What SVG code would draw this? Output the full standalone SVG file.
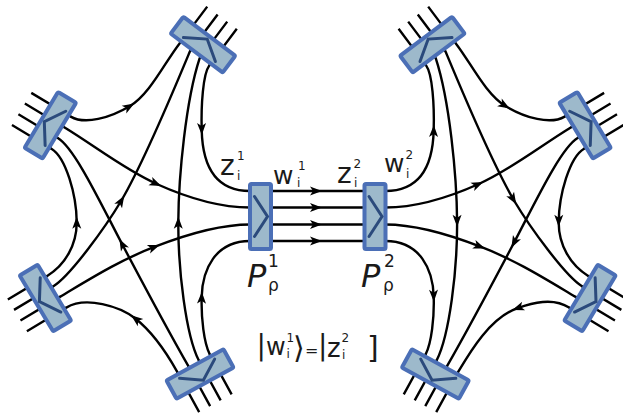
<svg xmlns="http://www.w3.org/2000/svg" xmlns:xlink="http://www.w3.org/1999/xlink" width="623" height="414" viewBox="0 0 623 414">
<style>
.ln{fill:none;stroke:#000;stroke-width:2.4;stroke-linecap:round;marker-mid:url(#arr)}
.bx{fill:#9db9cb;stroke:#4b6fb6;stroke-width:4;stroke-linejoin:round}
.ch{fill:none;stroke:#2b4a7c;stroke-width:3;stroke-linecap:round;stroke-linejoin:miter}
.stub{fill:none;stroke:#000;stroke-width:2.4}
text{font-family:"DejaVu Sans","Noto Sans",sans-serif;fill:#1a1a1a}
.it{font-style:italic}
</style>
<defs>
<marker id="arr" markerUnits="userSpaceOnUse" markerWidth="14" markerHeight="12" viewBox="-8 -6 14 12" refX="0" refY="0" orient="auto" overflow="visible"><path d="M5,0 L-7,-4.5 L-4,0 L-7,4.5 Z" fill="#000"/></marker>
<g id="boxShape"><rect class="bx" x="-10.5" y="-32.5" width="21" height="65" rx="1.5"/><path class="ch" d="M-6,-20 L7,0 L-6,20"/></g>
</defs>

<g id="connectors">
<g id="left-connectors">
<path class="ln" d="M70.7,116.6 C85,125 110,118 130,106 C150,94 165,62 179.6,43.4"/>
<path class="ln" d="M209.2,65.6 C203,74 201,105 201.7,130 C202.4,160 212,191 250,191"/>
<path class="ln" d="M64.2,127.3 C95,146 125,170 156.7,184 C190,199 220,207.5 250,207.5"/>
<path class="ln" d="M47.2,275.9 C65,265 77,245 76.7,221.7 C76.4,195 66,157.5 51.4,148.7"/>
<path class="ln" d="M53.4,286.2 C70,276 105,228 121.7,200 C145,160 178,80 190,51.2"/>
<path class="ln" d="M59.8,296.9 C90,279 120,260 155,246.7 C190,233 220,224.5 250,224.5"/>
<path class="ln" d="M177.1,371.7 C165,350 150,330 135,318.3 C120,306.6 86,295.8 66.3,307.6"/>
<path class="ln" d="M188.1,365.7 C170,334 140,278 121.7,243.3 C100.7,203.5 74.9,148.3 57.8,138"/>
<path class="ln" d="M198.6,360 C186,335 178,270 178.3,221.7 C178.6,175 186,100 199.6,58.4"/>
<path class="ln" d="M209.6,354 C204,343 201,318 201.7,296.7 C202.3,270 215,241 250,241"/>
</g>
<g id="middle-connectors">
<path class="ln" d="M250,191 L317,191 L385.4,191"/>
<path class="ln" d="M250,207.5 L317,207.5 L385.4,207.5"/>
<path class="ln" d="M250,224.5 L317,224.5 L385.4,224.5"/>
<path class="ln" d="M250,241 L317,241 L385.4,241"/>
</g>
<g id="right-connectors">
<path class="ln" d="M455.8,43.4 C470.4,62 485.4,94 505.4,106 C525.4,118 550.4,125 564.7,116.6"/>
<path class="ln" d="M385.4,191 C423.4,191 433,160 433.7,130 C434.4,105 432.4,74 426.2,65.6"/>
<path class="ln" d="M385.4,207.5 C415.4,207.5 445.4,199 478.7,184 C510.4,170 540.4,146 571.2,127.3"/>
<path class="ln" d="M584,148.7 C569.4,157.5 559,195 558.7,221.7 C558.4,245 570.4,265 588.2,275.9"/>
<path class="ln" d="M445.4,51.2 C457.4,80 490.4,160 513.7,200 C530.4,228 565.4,276 582,286.2"/>
<path class="ln" d="M385.4,224.5 C415.4,224.5 445.4,233 480.4,246.7 C515.4,260 545.4,279 575.6,296.9"/>
<path class="ln" d="M569.1,307.6 C553,297 532,303 517,308.3 C490,318 470,352 458.3,371.7"/>
<path class="ln" d="M577.6,138 C560.5,148.3 534.7,203.5 513.7,243.3 C495.4,278 465.4,334 447.3,365.7"/>
<path class="ln" d="M435.8,58.4 C449.4,100 456.8,175 457.1,221.7 C457.4,270 449.4,335 436.8,360"/>
<path class="ln" d="M385.4,241 C420.4,241 433.1,270 433.7,296.7 C434.4,318 431.4,343 425.8,354"/>
</g>
</g>

<g id="node-TL" transform="translate(203,44.7) rotate(-53.1)"><path class="stub" d="M33,-19.5H-13M33,-6.5H-13M33,5.5H-13M33,17.5H-13"/><use xlink:href="#boxShape" href="#boxShape"/></g>
<g id="node-L" transform="translate(50.3,125.3) rotate(211)"><path class="stub" d="M33,18H-13M33,5.5H-13M33,-7H-13M33,-19.5H-13"/><use xlink:href="#boxShape" href="#boxShape"/></g>
<g id="node-LL" transform="translate(45.4,298) rotate(149)"><path class="stub" d="M33,18H-13M33,6H-13M33,-6.5H-13M33,-19H-13"/><use xlink:href="#boxShape" href="#boxShape"/></g>
<g id="node-BL" transform="translate(200,374) rotate(61.3)"><path class="stub" d="M33,19H-13M33,6.5H-13M33,-5.5H-13M33,-18H-13"/><use xlink:href="#boxShape" href="#boxShape"/></g>

<g id="node-TR" transform="matrix(-1 0 0 1 635.4 0) translate(203,44.7) rotate(-53.1)"><path class="stub" d="M33,-19.5H-13M33,-6.5H-13M33,5.5H-13M33,17.5H-13"/><use xlink:href="#boxShape" href="#boxShape"/></g>
<g id="node-R" transform="matrix(-1 0 0 1 635.4 0) translate(50.3,125.3) rotate(211)"><path class="stub" d="M33,18H-13M33,5.5H-13M33,-7H-13M33,-19.5H-13"/><use xlink:href="#boxShape" href="#boxShape"/></g>
<g id="node-RL" transform="matrix(-1 0 0 1 635.4 0) translate(45.4,298) rotate(149)"><path class="stub" d="M33,18H-13M33,6H-13M33,-6.5H-13M33,-19H-13"/><use xlink:href="#boxShape" href="#boxShape"/></g>
<g id="node-BR" transform="matrix(-1 0 0 1 635.4 0) translate(200,374) rotate(61.3)"><path class="stub" d="M33,19H-13M33,6.5H-13M33,-5.5H-13M33,-18H-13"/><use xlink:href="#boxShape" href="#boxShape"/></g>

<g id="node-P1" transform="translate(260.5,216.5)"><use xlink:href="#boxShape" href="#boxShape"/></g>
<g id="node-P2" transform="translate(375,216.5)"><use xlink:href="#boxShape" href="#boxShape"/></g>

<g id="labels">
<text font-size="28"><tspan x="220" y="175">z</tspan><tspan x="237" y="160" font-size="12">1</tspan><tspan x="237" y="180" font-size="12">i</tspan></text>
<text font-size="25"><tspan x="273" y="184">w</tspan><tspan x="298" y="170" font-size="12">1</tspan><tspan x="297" y="187" font-size="12">i</tspan></text>
<text font-size="28"><tspan x="337" y="183">z</tspan><tspan x="353.5" y="168" font-size="12">2</tspan><tspan x="354" y="187" font-size="12">i</tspan></text>
<text font-size="25"><tspan x="384" y="172">w</tspan><tspan x="405.5" y="159" font-size="12">2</tspan><tspan x="406" y="178" font-size="12">i</tspan></text>
<text font-size="32"><tspan class="it" x="247" y="287">P</tspan><tspan x="268" y="267" font-size="17">1</tspan><tspan x="268" y="291" font-size="17">ρ</tspan></text>
<text font-size="32"><tspan class="it" x="361" y="287">P</tspan><tspan x="384" y="267" font-size="17">2</tspan><tspan x="383" y="291" font-size="17">ρ</tspan></text>
<text font-size="24"><tspan x="256.5" y="355" font-size="28">|</tspan><tspan x="266" y="355">w</tspan><tspan x="286.5" y="342" font-size="12">1</tspan><tspan x="286.5" y="358" font-size="12">i</tspan><tspan x="293" y="358" font-size="30">⟩</tspan><tspan x="305" y="356" font-size="16">=</tspan><tspan x="318" y="355" font-size="28">|</tspan><tspan x="327" y="357" font-size="26">z</tspan><tspan x="341.5" y="342" font-size="12">2</tspan><tspan x="342" y="359" font-size="12">i</tspan><tspan x="367" y="358" font-size="30">]</tspan></text>
</g>
</svg>
